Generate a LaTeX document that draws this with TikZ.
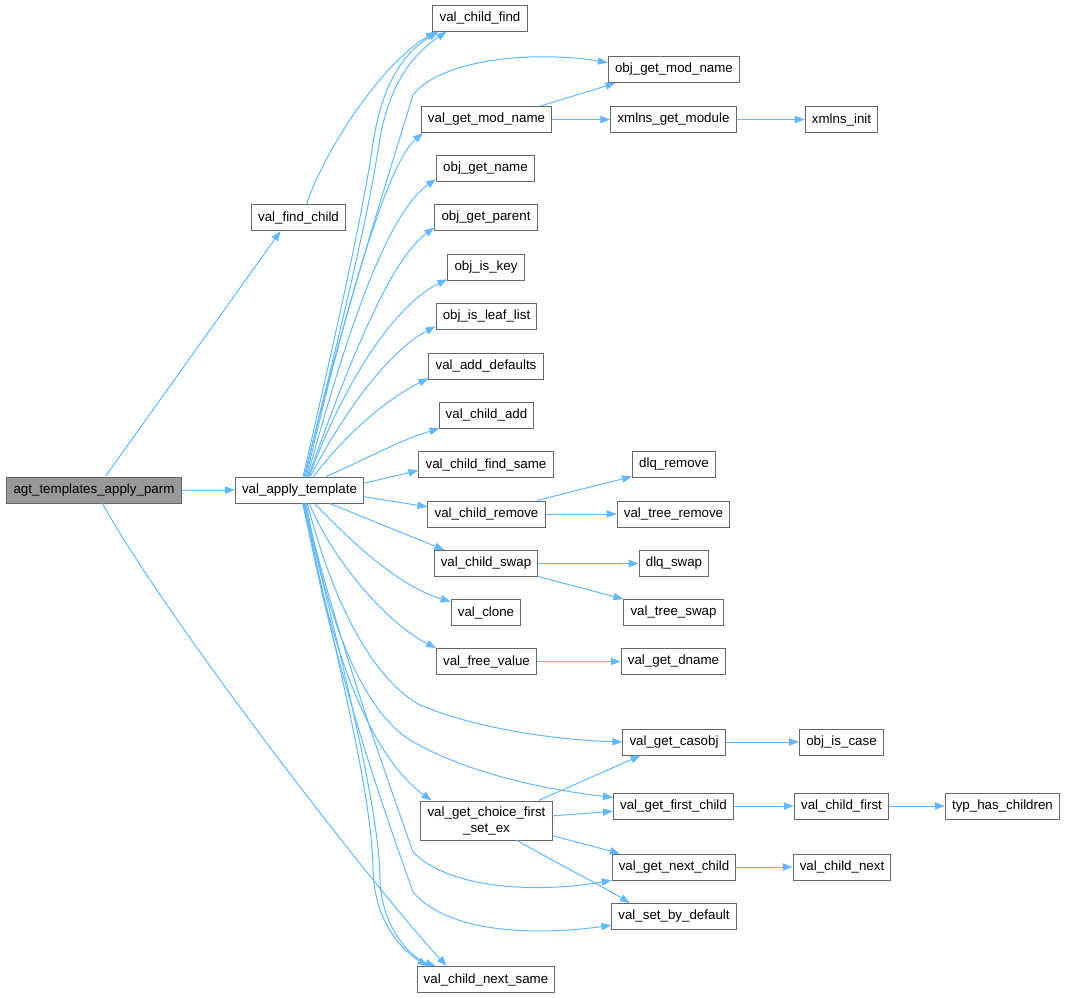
\documentclass[tikz,border=0pt]{standalone}
\usepackage{fontspec}
\setmainfont{Liberation Sans}
\usetikzlibrary{arrows.meta}
\definecolor{edgeblue}{HTML}{63B8FF}
\definecolor{boxline}{HTML}{666666}
\definecolor{rootfill}{HTML}{999999}
\tikzset{
  fn/.style={draw=boxline, line width=0.75pt, fill=white, inner xsep=5pt, inner ysep=0pt,
    minimum height=19.5pt, font=\fontsize{10pt}{12pt}\selectfont},
  root/.style={fn, fill=rootfill},
  call/.style={draw=edgeblue, line width=0.75pt, -{Triangle[length=7.5pt,width=5.5pt]}}
}
\begin{document}
\begin{tikzpicture}[x=0.75pt, y=-0.75pt]
                    \useasboundingbox (0,0) rectangle (1068,997);
                    \node[root] (agt) at (94,490) {agt\_templates\_apply\_parm};
                    \node[fn] (vat) at (299.5,490) {val\_apply\_template};
                    \node[fn] (vfc) at (298.5,217.5) {val\_find\_child};
                    \node[fn] (cfind) at (480,18) {val\_child\_find};
                    \node[fn] (objmod) at (674,69.5) {obj\_get\_mod\_name};
                    \node[fn] (vgetmod) at (486.5,119.5) {val\_get\_mod\_name};
                    \node[fn] (xmod) at (673.5,119.5) {xmlns\_get\_module};
                    \node[fn] (xinit) at (841.5,119.5) {xmlns\_init};
                    \node[fn] (objname) at (485.5,168.5) {obj\_get\_name};
                    \node[fn] (objparent) at (486,217.5) {obj\_get\_parent};
                    \node[fn] (objkey) at (486,267.5) {obj\_is\_key};
                    \node[fn] (objleaf) at (486.5,316.5) {obj\_is\_leaf\_list};
                    \node[fn] (adddef) at (486,366) {val\_add\_defaults};
                    \node[fn] (childadd) at (486.5,415) {val\_child\_add};
                    \node[fn] (findsame) at (486,464.5) {val\_child\_find\_same};
                    \node[fn] (dlqremove) at (674,464.5) {dlq\_remove};
                    \node[fn] (remove) at (486.5,514) {val\_child\_remove};
                    \node[fn] (treeremove) at (673.5,514) {val\_tree\_remove};
                    \node[fn] (swap) at (486,563.5) {val\_child\_swap};
                    \node[fn] (dlqswap) at (674,563.5) {dlq\_swap};
                    \node[fn] (clone) at (486,612.5) {val\_clone};
                    \node[fn] (treeswap) at (673.5,612.5) {val\_tree\_swap};
                    \node[fn] (freeval) at (486.5,661.5) {val\_free\_value};
                    \node[fn] (dname) at (673.5,661.5) {val\_get\_dname};
                    \node[fn] (casobj) at (674,742) {val\_get\_casobj};
                    \node[fn] (objcase) at (841.5,742) {obj\_is\_case};
                    \node[fn, align=center, minimum height=29.25pt] (choice) at (486.5,820.5) {val\_get\_choice\_first\\\_set\_ex};
                    \node[fn] (firstchild) at (673.5,806) {val\_get\_first\_child};
                    \node[fn] (childfirst) at (841.5,806) {val\_child\_first};
                    \node[fn] (haschildren) at (1002.5,806) {typ\_has\_children};
                    \node[fn] (nextchild) at (674,867) {val\_get\_next\_child};
                    \node[fn] (childnext) at (842,867) {val\_child\_next};
                    \node[fn] (setdef) at (674,916.5) {val\_set\_by\_default};
                    \node[fn] (cnsame) at (486,979.5) {val\_child\_next\_same};
                    % calls from the root
                    \draw[call] (agt.50) -- (vfc.-143);
                    \draw[call] (agt) -- (vat);
                    \draw[call] (agt.-58) .. controls (170,625) and (380,895) .. (cnsame.161);
                    \draw[call] (vfc.59) .. controls (325,150) and (380,65) .. (cfind.-163);
                    % calls going up from val_apply_template
                    \draw[call] (vat.75) .. controls (325,380) and (360,230) .. (372,150) .. controls (380,90) and (400,55) .. (cfind.-162);
                    \draw[call] (vat.71) .. controls (328,380) and (366,230) .. (378,150) .. controls (386,95) and (405,60) .. (cfind.-158);
                    \draw[call] (vat.67) .. controls (330,360) and (390,170) .. (413,95) .. controls (440,60) and (530,50) .. (objmod.174);
                    \draw[call] (vat.63) .. controls (340,330) and (385,165) .. (vgetmod.-168);
                    \draw[call] (vat.60) .. controls (345,340) and (385,215) .. (objname.-168);
                    \draw[call] (vat.57) .. controls (350,360) and (390,260) .. (objparent.-169);
                    \draw[call] (vat.54) .. controls (345,380) and (395,305) .. (objkey.-163);
                    \draw[call] (vat.51) .. controls (345,410) and (390,350) .. (objleaf.-169);
                    \draw[call] (vat.44) .. controls (345,435) and (385,400) .. (adddef.-168);
                    \draw[call] (vat.27) .. controls (360,462) and (400,440) .. (childadd.-164);
                    \draw[call] (vat.6) -- (findsame.-175);
                    \draw[call] (vat.-6) -- (remove.173);
                    % calls going down from val_apply_template
                    \draw[call] (vat.-24) -- (swap.162);
                    \draw[call] (vat.-42) .. controls (345,535) and (395,585) .. (clone.163);
                    \draw[call] (vat.-54) .. controls (335,565) and (390,625) .. (freeval.165);
                    \draw[call] (vat.-60) .. controls (335,610) and (375,680) .. (420,705) .. controls (480,730) and (560,740) .. (casobj.west);
                    \draw[call] (vat.-63) .. controls (330,640) and (370,715) .. (410,740) .. controls (470,775) and (550,790) .. (firstchild.172);
                    \draw[call] (vat.-67) .. controls (330,660) and (375,760) .. (choice.160);
                    \draw[call] (vat.-71) .. controls (340,650) and (395,800) .. (413,852) .. controls (450,890) and (540,893) .. (nextchild.-168);
                    \draw[call] (vat.-73) .. controls (335,680) and (395,840) .. (413,892) .. controls (450,935) and (540,935) .. (setdef.-172);
                    \draw[call] (vat.-77) .. controls (345,690) and (372,800) .. (373,870) .. controls (375,930) and (410,955) .. (cnsame.167);
                    \draw[call] (vat.-75) .. controls (350,690) and (380,820) .. (380,880) .. controls (382,930) and (412,958) .. (cnsame.165);
                    % second level calls
                    \draw[call] (vgetmod.14) -- (objmod.-167);
                    \draw[call] (vgetmod) -- (xmod);
                    \draw[call] (xmod) -- (xinit);
                    \draw[call] (remove.15) -- (dlqremove.-164);
                    \draw[call] (remove) -- (treeremove);
                    \draw[call] (swap) -- (dlqswap);
                    \draw[call] (swap.-14) -- (treeswap.165);
                    \draw[call] (freeval) -- (dname);
                    \draw[call] (casobj) -- (objcase);
                    \draw[call] (choice.21) -- (casobj.-158);
                    \draw[call] (choice.4) -- (firstchild.-175);
                    \draw[call] (choice.-13) -- (nextchild.166);
                    \draw[call] (choice.-33) .. controls (560,865) and (600,885) .. (setdef.163);
                    \draw[call] (firstchild) -- (childfirst);
                    \draw[call] (childfirst) -- (haschildren);
                    \draw[call] (nextchild) -- (childnext);
                \end{tikzpicture}
\end{document}
